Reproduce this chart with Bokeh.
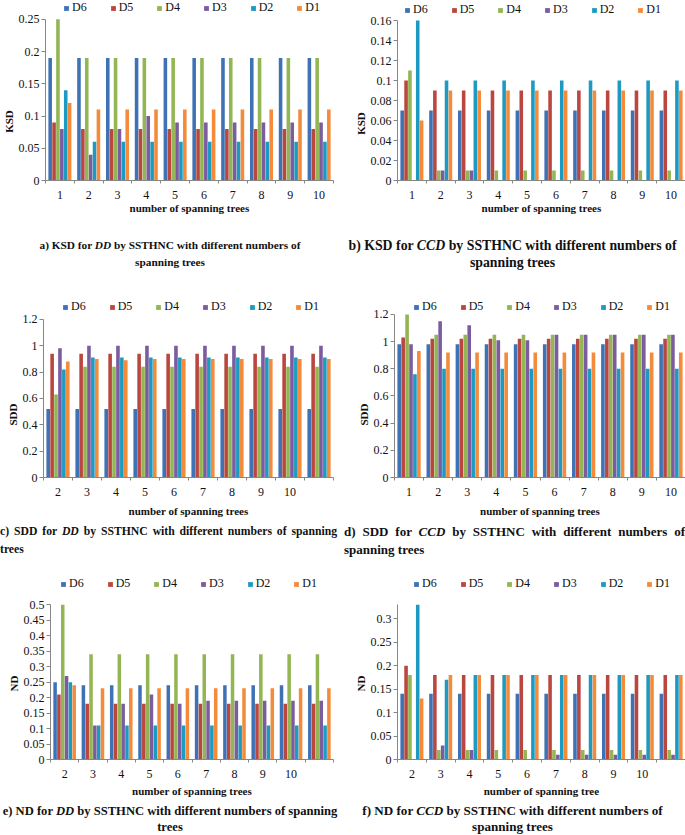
from bokeh.plotting import figure
from bokeh.models import (Range1d, FixedTicker, Legend, LegendItem, Div, Spacer,
                          ColumnDataSource, Title)
from bokeh.layouts import column, row
from bokeh.embed import file_html
from bokeh.resources import INLINE

SERIES = ["D6", "D5", "D4", "D3", "D2", "D1"]
COLORS = ["#3F72B5", "#B9473F", "#93B553", "#7B5C9F", "#1D9AC1", "#F38B3B"]

TREES_1_10 = ["1", "2", "3", "4", "5", "6", "7", "8", "9", "10"]
TREES_2_10 = ["2", "3", "4", "5", "6", "7", "8", "9", "10", ""]

# a) KSD for DD
KSD_DD = {
    "D6": [0.19, 0.19, 0.19, 0.19, 0.19, 0.19, 0.19, 0.19, 0.19, 0.19],
    "D5": [0.09, 0.08, 0.08, 0.08, 0.08, 0.08, 0.08, 0.08, 0.08, 0.08],
    "D4": [0.25, 0.19, 0.19, 0.19, 0.19, 0.19, 0.19, 0.19, 0.19, 0.19],
    "D3": [0.08, 0.04, 0.08, 0.10, 0.09, 0.09, 0.09, 0.09, 0.09, 0.09],
    "D2": [0.14, 0.06, 0.06, 0.06, 0.06, 0.06, 0.06, 0.06, 0.06, 0.06],
    "D1": [0.12, 0.11, 0.11, 0.11, 0.11, 0.11, 0.11, 0.11, 0.11, 0.11],
}
# b) KSD for CCD
KSD_CCD = {
    "D6": [0.07, 0.07, 0.07, 0.07, 0.07, 0.07, 0.07, 0.07, 0.07, 0.07],
    "D5": [0.10, 0.09, 0.09, 0.09, 0.09, 0.09, 0.09, 0.09, 0.09, 0.09],
    "D4": [0.11, 0.01, 0.01, 0.01, 0.01, 0.01, 0.01, 0.01, 0.01, 0.01],
    "D3": [0, 0.01, 0.01, 0, 0, 0, 0, 0, 0, 0],
    "D2": [0.16, 0.10, 0.10, 0.10, 0.10, 0.10, 0.10, 0.10, 0.10, 0.10],
    "D1": [0.06, 0.09, 0.09, 0.09, 0.09, 0.09, 0.09, 0.09, 0.09, 0.09],
}
# c) SDD for DD
SDD_DD = {
    "D6": [0.52, 0.52, 0.52, 0.52, 0.52, 0.52, 0.52, 0.52, 0.52, 0.52],
    "D5": [0.94, 0.94, 0.94, 0.94, 0.94, 0.94, 0.94, 0.94, 0.94, 0.94],
    "D4": [0.63, 0.84, 0.84, 0.84, 0.84, 0.84, 0.84, 0.84, 0.84, 0.84],
    "D3": [0.98, 1.0, 1.0, 1.0, 1.0, 1.0, 1.0, 1.0, 1.0, 1.0],
    "D2": [0.82, 0.91, 0.91, 0.91, 0.91, 0.91, 0.91, 0.91, 0.91, 0.91],
    "D1": [0.88, 0.90, 0.89, 0.90, 0.90, 0.90, 0.90, 0.90, 0.90, 0.90],
}
# d) SDD for CCD
SDD_CCD = {
    "D6": [0.98, 0.98, 0.98, 0.98, 0.98, 0.98, 0.98, 0.98, 0.98, 0.98],
    "D5": [1.03, 1.02, 1.02, 1.02, 1.02, 1.02, 1.02, 1.02, 1.02, 1.02],
    "D4": [1.20, 1.05, 1.05, 1.05, 1.05, 1.05, 1.05, 1.05, 1.05, 1.05],
    "D3": [0.98, 1.15, 1.12, 1.01, 1.01, 1.05, 1.05, 1.05, 1.05, 1.05],
    "D2": [0.76, 0.80, 0.80, 0.80, 0.80, 0.80, 0.80, 0.80, 0.80, 0.80],
    "D1": [0.93, 0.92, 0.92, 0.92, 0.92, 0.92, 0.92, 0.92, 0.92, 0.92],
}
# e) ND for DD
ND_DD = {
    "D6": [0.25, 0.24, 0.24, 0.24, 0.24, 0.24, 0.24, 0.24, 0.24, 0.24],
    "D5": [0.21, 0.18, 0.18, 0.18, 0.18, 0.18, 0.18, 0.18, 0.18, 0.18],
    "D4": [0.50, 0.34, 0.34, 0.34, 0.34, 0.34, 0.34, 0.34, 0.34, 0.34],
    "D3": [0.27, 0.11, 0.18, 0.21, 0.18, 0.19, 0.19, 0.19, 0.19, 0.19],
    "D2": [0.25, 0.11, 0.11, 0.11, 0.11, 0.11, 0.11, 0.11, 0.11, 0.11],
    "D1": [0.24, 0.23, 0.23, 0.23, 0.23, 0.23, 0.23, 0.23, 0.23, 0.23],
}
# f) ND for CCD
ND_CCD = {
    "D6": [0.14, 0.14, 0.14, 0.14, 0.14, 0.14, 0.14, 0.14, 0.14, 0.14],
    "D5": [0.20, 0.18, 0.18, 0.18, 0.18, 0.18, 0.18, 0.18, 0.18, 0.18],
    "D4": [0.18, 0.02, 0.02, 0.02, 0.02, 0.02, 0.02, 0.02, 0.02, 0.02],
    "D3": [0, 0.03, 0.02, 0, 0, 0.01, 0.01, 0.01, 0.01, 0.01],
    "D2": [0.33, 0.17, 0.18, 0.18, 0.18, 0.18, 0.18, 0.18, 0.18, 0.18],
    "D1": [0.13, 0.18, 0.18, 0.18, 0.18, 0.18, 0.18, 0.18, 0.18, 0.18],
}

KSD_DD_TICKS = [0, 0.05, 0.1, 0.15, 0.2, 0.25]
KSD_CCD_TICKS = [0, 0.02, 0.04, 0.06, 0.08, 0.1, 0.12, 0.14, 0.16]
SDD_TICKS = [0, 0.2, 0.4, 0.6, 0.8, 1, 1.2]
ND_DD_TICKS = [0, 0.05, 0.1, 0.15, 0.2, 0.25, 0.3, 0.35, 0.4, 0.45, 0.5]
ND_CCD_TICKS = [0, 0.05, 0.1, 0.15, 0.2, 0.25, 0.3]

FONT = "Liberation Serif"
AXIS_GRAY = "#868686"
YTITLE_PX = 11
# approximate advance widths (em) of the bold y titles, used to centre them
YTITLE_EM = {"KSD": 2.06, "SDD": 2.0, "ND": 1.44}


def make_panel(data, xlabels, yticks, ymax, ylabel, xtitle, width, height,
               mbl, mbr, top_px, mbb, leg_dx, leg_cy, title_standoff, ylab_y):
    """top_px: px from figure top to the value ymax (legend lives above it);
    ylab_y: px from figure top to the centre of the y-axis title."""
    n = len(xlabels)
    groups = list(range(1, n + 1))
    frame_h = height - mbb
    y_top = ymax * frame_h / (frame_h - top_px)   # extra room inside the frame for the legend
    p = figure(width=width, height=height, output_backend="svg", toolbar_location=None,
               x_range=Range1d(0.5, n + 0.5), y_range=Range1d(0, y_top),
               min_border_left=mbl, min_border_right=mbr,
               min_border_top=0, min_border_bottom=mbb)
    p.xgrid.visible = False
    p.ygrid.visible = False
    p.outline_line_color = None
    bw = 0.135
    renderers = []
    for j, (name, color) in enumerate(zip(SERIES, COLORS)):
        xs = [g + (j - 2.5) * bw for g in groups]
        src = ColumnDataSource(dict(x=xs, top=data[name]))
        r = p.vbar(x="x", top="top", width=bw * 0.92, source=src,
                   fill_color=color, line_color=None)
        renderers.append(r)

    xa = p.xaxis[0]
    xa.ticker = FixedTicker(ticks=groups, minor_ticks=[g - 0.5 for g in groups] + [n + 0.5])
    xa.major_label_overrides = {g: lab for g, lab in zip(groups, xlabels)}
    xa.major_tick_out = 0
    xa.major_tick_in = 0
    xa.minor_tick_out = 3
    xa.minor_tick_in = 0
    xa.axis_line_color = AXIS_GRAY
    xa.minor_tick_line_color = AXIS_GRAY
    xa.major_label_text_font = FONT
    xa.major_label_text_font_size = "12px"
    xa.major_label_text_color = "#111111"
    xa.major_label_standoff = 7
    xa.axis_label = xtitle
    xa.axis_label_text_font = FONT
    xa.axis_label_text_font_style = "bold"
    xa.axis_label_text_font_size = "11px"
    xa.axis_label_text_color = "#111111"
    xa.axis_label_standoff = title_standoff

    ya = p.yaxis[0]
    ya.bounds = (0, ymax)
    ya.ticker = FixedTicker(ticks=yticks, minor_ticks=[])
    ya.major_label_overrides = {t: f"{t:g}" for t in yticks}
    ya.major_tick_out = 4
    ya.major_tick_in = 0
    ya.minor_tick_out = 0
    ya.minor_tick_in = 0
    ya.axis_line_color = AXIS_GRAY
    ya.major_tick_line_color = AXIS_GRAY
    ya.major_label_text_font = FONT
    ya.major_label_text_font_size = "12px"
    ya.major_label_text_color = "#111111"
    ya.major_label_standoff = 2

    # y-axis title placed beside the value axis (below the legend area)
    half_len = YTITLE_EM.get(ylabel, 0.6 * len(ylabel)) * YTITLE_PX / 2
    ytitle = Title(text=ylabel, align="left", offset=frame_h - ylab_y - half_len, standoff=1,
                   text_font=FONT, text_font_size=f"{YTITLE_PX}px", text_font_style="bold",
                   text_color="#111111")
    p.add_layout(ytitle, "left")

    legend = Legend(
        items=[LegendItem(label=s, renderers=[r]) for s, r in zip(SERIES, renderers)],
        orientation="horizontal",
        location=(leg_dx, frame_h - leg_cy - 7),
        glyph_width=6, glyph_height=6, label_standoff=3, spacing=23,
        label_width=14, label_height=14,
        padding=0, margin=0,
        border_line_alpha=0, background_fill_alpha=0,
        label_text_font=FONT, label_text_font_size="12px", label_text_color="#111111",
    )
    p.add_layout(legend, "center")
    return p


def caption(html, width, size, align="center", height=34, lh=17, pad=""):
    style = (f"font-family:'{FONT}';font-weight:bold;font-size:{size}px;"
             f"line-height:{lh}px;color:#111;text-align:{align};width:{width}px;"
             f"box-sizing:border-box;{pad}")
    return Div(text=f'<div style="{style}">{html}</div>', width=width, height=height,
               margin=(0, 0, 0, 0))


def justified(line1, line2):
    return (f'<div style="text-align:justify;text-align-last:justify;">{line1}</div>'
            f'<div style="text-align:left;">{line2}</div>')


XT = "number of spanning trees"

#                                                              w    h   mbl mbr top mbb dx cy  ts ylab
pa = make_panel(KSD_DD, TREES_1_10, KSD_DD_TICKS, 0.25, "KSD", XT, 340, 216, 39, 7, 19, 34, 18, 10, 0, 123)
pb = make_panel(KSD_CCD, TREES_1_10, KSD_CCD_TICKS, 0.16, "KSD", XT, 345, 216, 57, 0, 20, 36, 7, 10, 0, 123)
pc = make_panel(SDD_DD, TREES_2_10, SDD_TICKS, 1.2, "SDD", XT, 340, 222, 43, 7, 22, 41, 19, 11, 6, 118)
pd = make_panel(SDD_CCD, TREES_1_10, SDD_TICKS, 1.2, "SDD", XT, 345, 222, 54, 0, 17, 41, 19, 11, 6, 118)
pe = make_panel(ND_DD, TREES_2_10, ND_DD_TICKS, 0.5, "ND", XT, 340, 222, 50, 7, 28, 35, 10, 12, 4, 111)
pf = make_panel(ND_CCD, TREES_2_10, ND_CCD_TICKS, 0.33, "ND", "number of spanning tree",
                345, 222, 57, 0, 28, 35, 16, 12, 4, 111)

ca = caption("a) KSD for <i>DD</i> by SSTHNC with different numbers of<br>spanning trees", 340, 11.3)
cb = caption("b) KSD for <i>CCD</i> by SSTHNC with different numbers of<br>spanning trees", 345, 13.8)
cc = caption(justified("c) SDD for <i>DD</i> by SSTHNC with different numbers of spanning", "trees"),
             340, 11.7, "left", 36, 18, "padding-right:3px;")
cd = caption(justified("d) SDD for <i>CCD</i> by SSTHNC with different numbers of", "spanning trees"),
             345, 13, "left", 36, 18, "padding-left:4px;")
ce = caption("e) ND for <i>DD</i> by SSTHNC with different numbers of spanning<br>trees", 340, 12.6,
             "center", 32, 16)
cf = caption("f) ND for <i>CCD</i> by SSTHNC with different numbers of<br>spanning trees", 345, 13.1,
             "center", 32, 16)

layout = column(
    row(pa, pb),
    Spacer(height=21),
    row(ca, cb),
    Spacer(height=26),
    row(pc, pd),
    Spacer(height=4),
    row(cc, cd),
    Spacer(height=18),
    row(pe, pf),
    Spacer(height=4),
    row(ce, cf),
)

open("out.html", "w").write(file_html(layout, INLINE))
